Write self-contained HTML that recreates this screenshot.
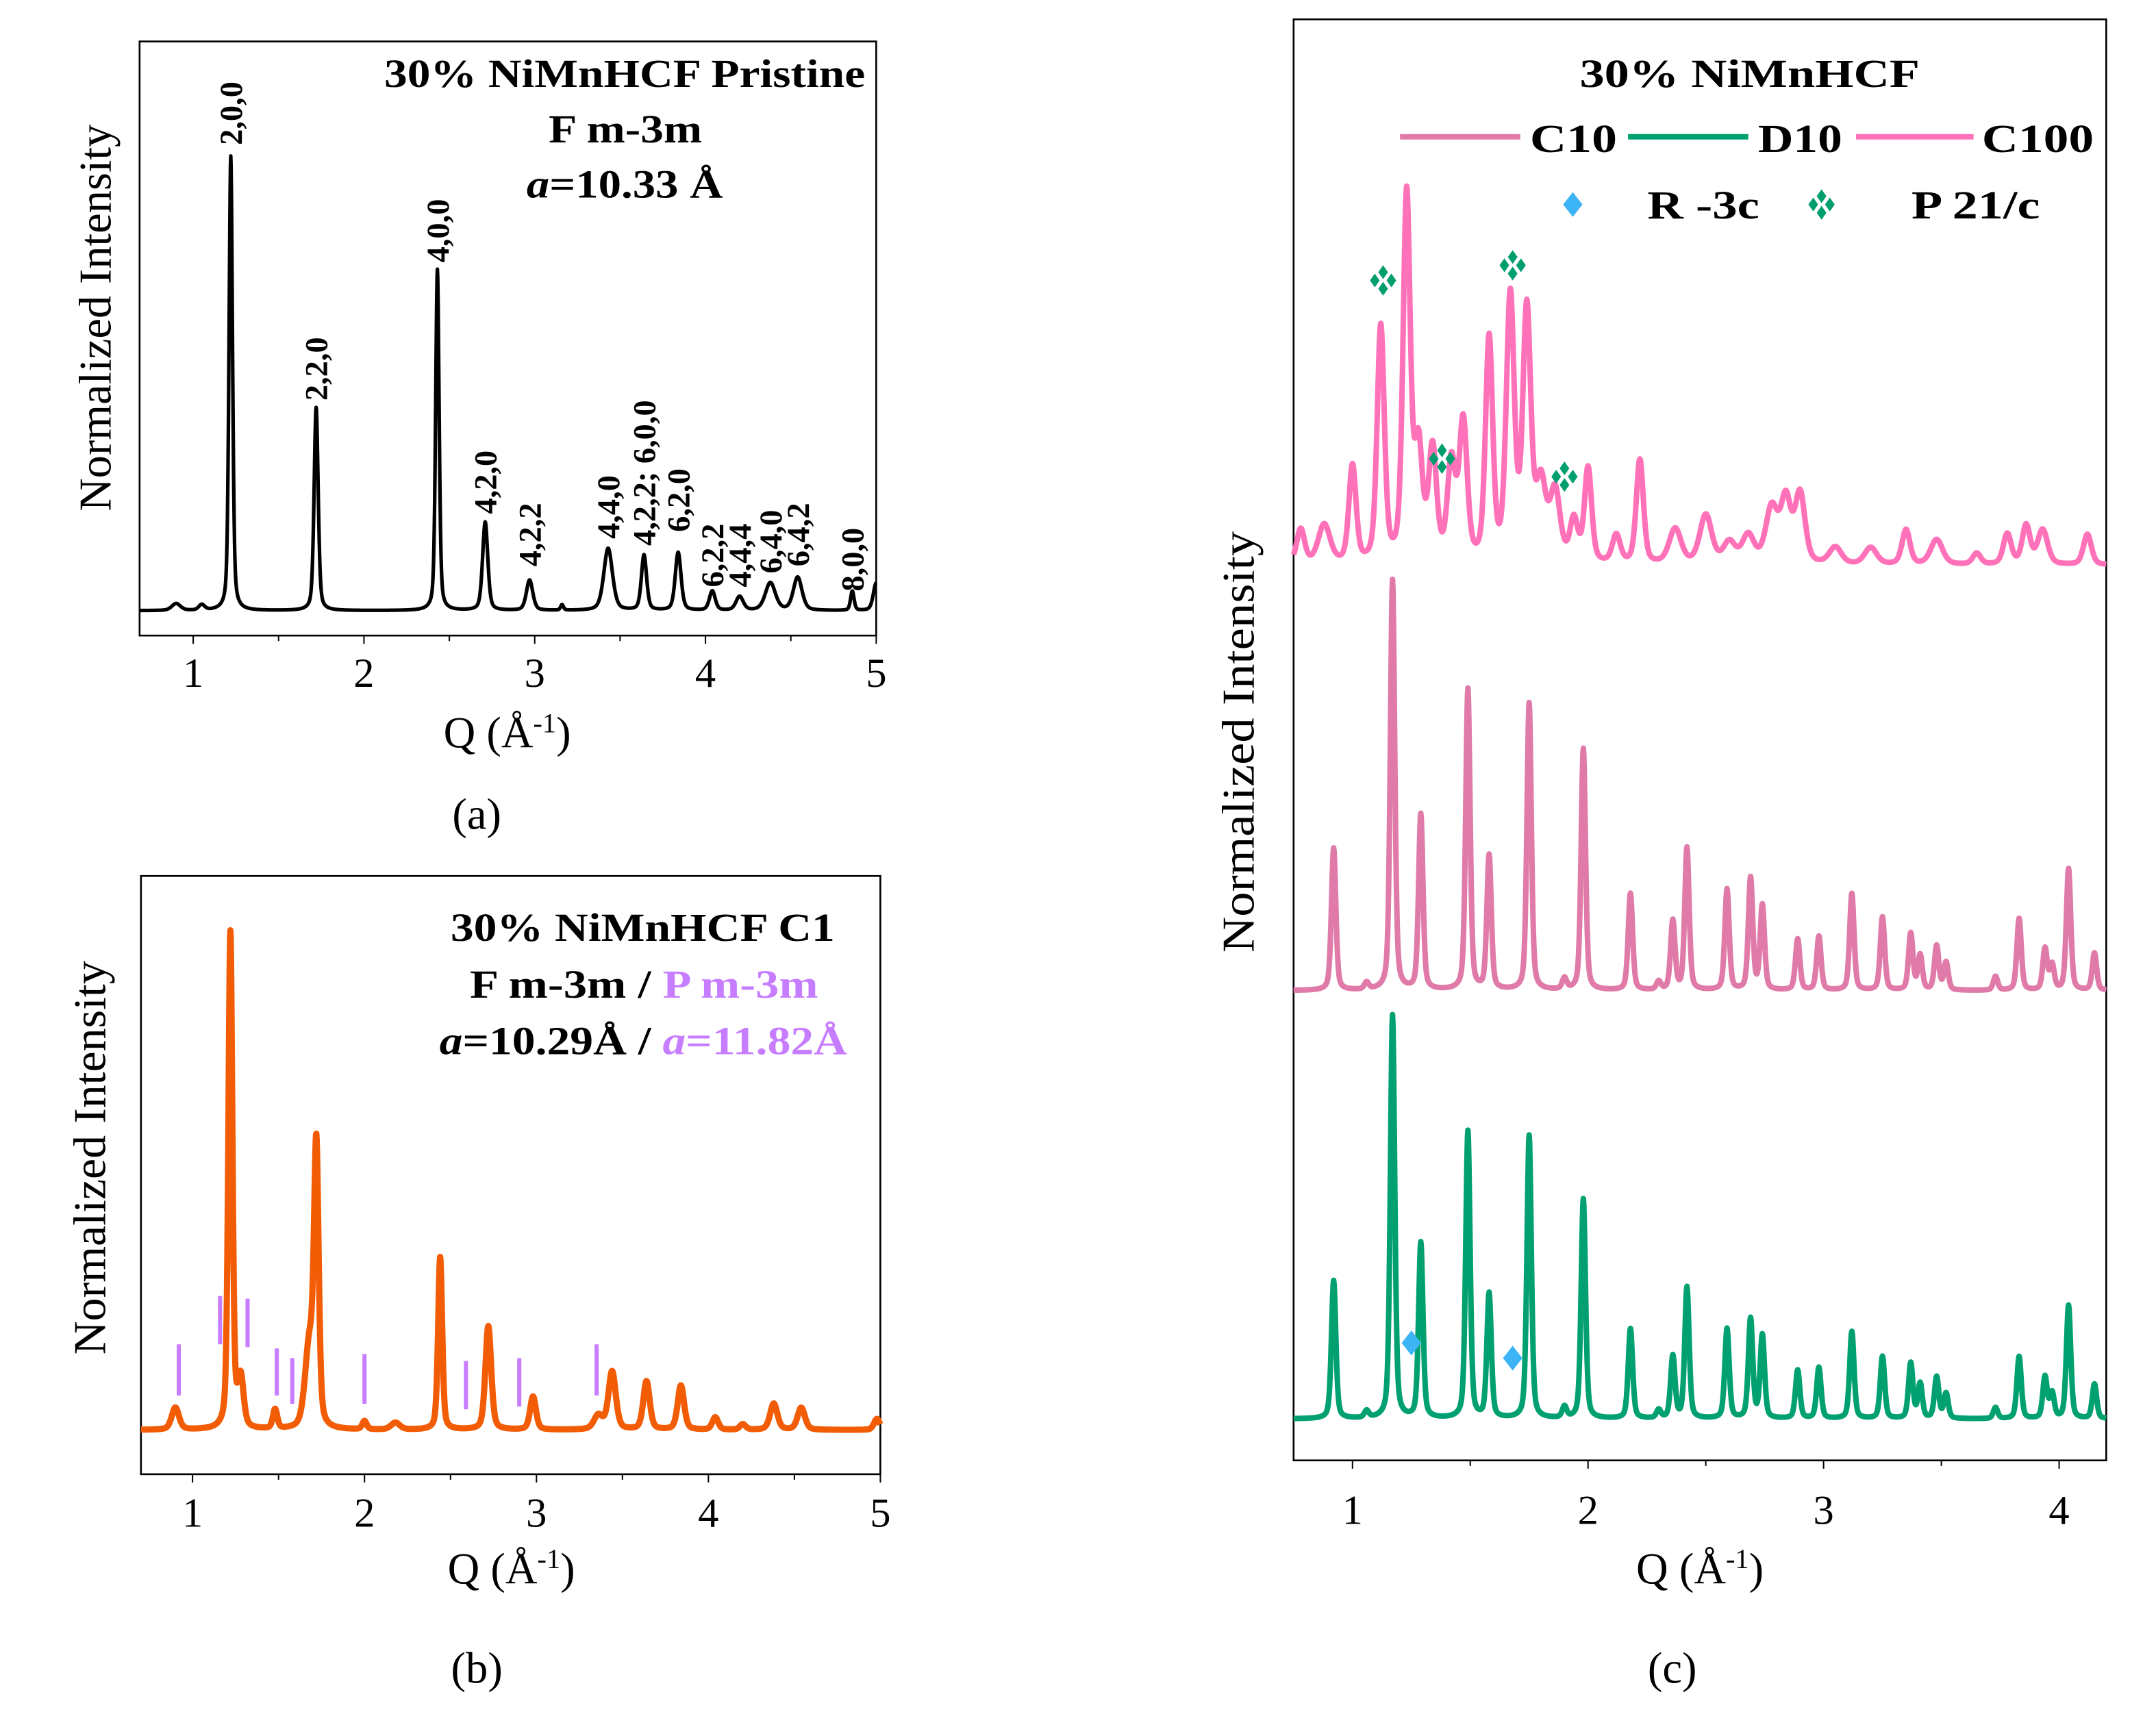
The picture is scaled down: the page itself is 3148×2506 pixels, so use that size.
<!DOCTYPE html>
<html><head><meta charset="utf-8"><style>html,body{margin:0;padding:0;background:#fff}svg{display:block}text{font-family:"Liberation Serif",serif}</style></head>
<body>
<svg id="fig" xmlns="http://www.w3.org/2000/svg" width="3148" height="2506" viewBox="0 0 1560 1242" preserveAspectRatio="none">
<g id="pa"></g>
<g id="pb"></g>
<g id="pc"></g>
</svg>
<script>
// ---- Panel (a) data ----
const aPeakQ = [0.9,1.05,1.22,1.72,2.43,2.71,2.97,3.16,3.43,3.64,3.84,4.04,4.2,4.38,4.54,4.86,5.0];
const aPeakH = [5,4,329,147,247,64,22,4,45,40,42,14,10,20,24,14,20];
const aPeakW = [0.03,0.02,0.012,0.014,0.012,0.018,0.022,0.01,0.03,0.018,0.02,0.02,0.025,0.035,0.03,0.012,0.02];
const aLabels = ["2,0,0","2,2,0","4,0,0","4,2,0","4,2,2","4,4,0","4,2,2;  6,0,0","6,2,0","6,2,2","4,4,4","6,4,0","6,4,2","8,0,0"];
const aLabelQ = [1.22,1.72,2.43,2.71,2.97,3.43,3.64,3.84,4.04,4.2,4.38,4.54,4.86];
const aLabelH = [337,152,252,70,32,52,47,57,17,17,27,32,14];
const aTicks = ["1","2","3","4","5"];
// ---- Panel (b) data ----
const bPeakQ = [0.9,1.22,1.28,1.48,1.68,1.72,2.0,2.18,2.44,2.72,2.98,3.36,3.44,3.64,3.84,4.04,4.2,4.38,4.54,4.98];
const bPeakH = [16,360,35,14,60,195,6,5,125,75,24,10,42,35,32,9,4,19,16,8];
const bPeakW = [0.025,0.014,0.02,0.015,0.03,0.016,0.015,0.03,0.014,0.02,0.02,0.03,0.025,0.022,0.022,0.02,0.02,0.025,0.025,0.02];
const bRefQ = [0.92,1.16,1.32,1.49,1.58,2.0,2.59,2.9,3.35];
const bRefTop = [62,97,95,59,52,55,50,52,62];
const bRefLen = [37,35,35,34,33,36,35,35,37];
// ---- Panel (c) data ----
const sharpQ = [0.92,1.06,1.17,1.29,1.49,1.58,1.75,1.9,1.98,2.18,2.3,2.36,2.42,2.59,2.69,2.74,2.89,2.98,3.12,3.25,3.37,3.41,3.48,3.52,3.73,3.83,3.94,3.97,4.04,4.15];
const d10H = [100,5,292,127,208,90,205,8,159,65,6,45,95,65,72,60,35,37,63,45,40,25,30,18,8,45,30,18,82,25];
const c10H = [103,5,297,127,218,97,208,8,175,70,6,50,103,73,81,61,37,39,70,53,41,25,32,20,10,52,30,18,88,27];
const c100Q = [0.78,0.88,1.0,1.12,1.23,1.28,1.34,1.42,1.47,1.58,1.67,1.74,1.8,1.86,1.94,2.0,2.12,2.22,2.37,2.5,2.6,2.68,2.78,2.84,2.9,3.05,3.2,3.35,3.48,3.65,3.78,3.86,3.93,4.12];
const c100H = [25,28,70,170,265,80,80,70,100,160,190,180,55,50,30,68,20,75,25,35,15,20,40,45,50,12,12,25,18,8,22,28,25,22];
const c100W = [0.02,0.03,0.018,0.018,0.018,0.02,0.02,0.02,0.02,0.018,0.02,0.02,0.025,0.025,0.02,0.018,0.02,0.018,0.03,0.03,0.03,0.03,0.03,0.025,0.025,0.03,0.03,0.02,0.03,0.02,0.02,0.02,0.025,0.02];
const cTicks = ["1","2","3","4"];
const p21Q = [1.13,1.68,1.38,1.9];
const p21Y = [203,192,332,345];
const r3cQ = [1.25,1.68];
const r3cY = [972,983];

const NS = "http://www.w3.org/2000/svg";
function mk(parent, tag, attrs, txt){const e=document.createElementNS(NS,tag);for(const k in attrs)e.setAttribute(k,attrs[k]);if(txt!==undefined)e.textContent=txt;parent.appendChild(e);return e;}
function prof(q,c,w){const d=(q-c)/w;return 0.6*Math.exp(-d*d*0.69)+0.4/(1+d*d);}
function curve(Q,H,W,q){let s=0;for(let i=0;i<Q.length;i++){const w=Array.isArray(W)?W[i]:W;s+=H[i]*prof(q,Q[i],w);}return s;}
function pathFor(xs,ys,Q,H,W,q0,q1){let d="";for(let q=q0;q<=q1+1e-9;q+=0.002){d+=(d?"L":"M")+xs(q).toFixed(2)+","+ys(curve(Q,H,W,q)).toFixed(2);}return d;}
function axesBox(g,x0,y0,x1,y1,xs,qmin,qmax,ticks,minorStep,labY,name){
  const f=mk(g,"rect",{x:x0,y:y0,width:x1-x0,height:y1-y0,fill:"none",stroke:"#000","stroke-width":1.3});
  
  for(let v=Math.ceil(qmin/minorStep)*minorStep;v<=qmax+1e-9;v+=minorStep){
    const major=Math.abs(v-Math.round(v))<1e-6;
    const t=mk(g,"line",{x1:xs(v),x2:xs(v),y1:y1,y2:y1+(major?6:4),stroke:"#000","stroke-width":1});
    
  }
  ticks.forEach(s=>{const v=+s;const t=mk(g,"text",{x:xs(v),y:labY,"text-anchor":"middle","font-size":30},s);
    });
}
function xTitle(g,x,y,name){const t=mk(g,"text",{x:x,y:y,"text-anchor":"middle","font-size":32});
  
  t.appendChild(document.createTextNode("Q (Å"));mk(t,"tspan",{dy:-11,"font-size":20},"-1");mk(t,"tspan",{dy:11},")");}
function yTitle(g,x,y,name,len){const t=mk(g,"text",{x:x,y:y,"text-anchor":"middle","font-size":33,textLength:len,lengthAdjust:"spacingAndGlyphs",transform:`rotate(-90 ${x} ${y})`},"Normalized Intensity");
  }
function bt(g,x,y,len,name,anchor){const t=mk(g,"text",{x:x,y:y,"text-anchor":anchor||"start","font-size":29,"font-weight":"bold",textLength:len,lengthAdjust:"spacingAndGlyphs"});
  return t;}

// ===== Panel a =====
(function(){
const g=document.getElementById("pa");
const qmin=0.686,qmax=5,X0=101,X1=634,Y0=30,Y1=460,base=442;
const xs=q=>X0+(q-qmin)/(qmax-qmin)*(X1-X0);const ys=v=>base-v;
axesBox(g,X0,Y0,X1,Y1,xs,qmin,qmax,aTicks,0.5,497,"panel-a");
const p=mk(g,"path",{d:pathFor(xs,ys,aPeakQ,aPeakH,aPeakW,qmin,qmax),fill:"none",stroke:"#000","stroke-width":2.6,"stroke-linejoin":"round"});

aLabels.forEach((s,i)=>{const x=xs(aLabelQ[i])+8,y=ys(aLabelH[i]);
  const t=mk(g,"text",{x:x,y:y,"font-size":23,"font-weight":"bold",transform:`rotate(-90 ${x} ${y})`},s);
  });
let t=bt(g,278,63,348,"title-a");t.textContent="30% NiMnHCF Pristine";
t=bt(g,397,103,111,"space-group-a");t.textContent="F m-3m";
t=bt(g,381,143,142,"lattice-a");
mk(t,"tspan",{"font-style":"italic"},"a");mk(t,"tspan",{},"=10.33 Å");
xTitle(g,367,541,"x-axis-title-a");yTitle(g,80,230,"y-axis-title-a",280);
t=mk(g,"text",{x:345,y:600,"text-anchor":"middle","font-size":32},"(a)");
})();

// ===== Panel b =====
(function(){
const g=document.getElementById("pb");
const qmin=0.7,qmax=5,X0=102,X1=637,Y0=634,Y1=1067,base=1035;
const xs=q=>X0+(q-qmin)/(qmax-qmin)*(X1-X0);const ys=v=>base-v;
axesBox(g,X0,Y0,X1,Y1,xs,qmin,qmax,aTicks,0.5,1105,"panel-b");
bRefQ.forEach((q,i)=>{const l=mk(g,"line",{x1:xs(q),x2:xs(q),y1:ys(bRefTop[i]),y2:ys(bRefTop[i])+bRefLen[i],stroke:"#c77dff","stroke-width":3});
  });
const p=mk(g,"path",{d:pathFor(xs,ys,bPeakQ,bPeakH,bPeakW,qmin,qmax),fill:"none",stroke:"#f25c05","stroke-width":4.5,"stroke-linejoin":"round"});

let t=bt(g,326,681,278,"title-b");t.textContent="30% NiMnHCF C1";
t=bt(g,340,722,252,"space-group-b");
mk(t,"tspan",{},"F m-3m / ");mk(t,"tspan",{fill:"#c77dff"},"P m-3m");
t=bt(g,318,763,295,"lattice-b");
mk(t,"tspan",{"font-style":"italic"},"a");mk(t,"tspan",{},"=10.29Å / ");mk(t,"tspan",{"font-style":"italic",fill:"#c77dff"},"a");mk(t,"tspan",{fill:"#c77dff"},"=11.82Å");
xTitle(g,370,1146,"x-axis-title-b");yTitle(g,76,838,"y-axis-title-b",285);
t=mk(g,"text",{x:345,y:1218,"text-anchor":"middle","font-size":32},"(b)");
})();

// ===== Panel c =====
(function(){
const g=document.getElementById("pc");
const qmin=0.75,qmax=4.2,X0=936,X1=1524,Y0=14,Y1=1057;
const xs=q=>X0+(q-qmin)/(qmax-qmin)*(X1-X0);
axesBox(g,X0,Y0,X1,Y1,xs,qmin,qmax,cTicks,0.5,1103,"panel-c");
const series=[["d10-pattern",sharpQ,d10H,0.011,1027,"#00a070"],["c10-pattern",sharpQ,c10H,0.011,717,"#e07aa8"],["c100-pattern",c100Q,c100H,c100W,409,"#ff72b9"]];
series.forEach(s=>{const ys=v=>s[4]-v;
  const p=mk(g,"path",{d:pathFor(xs,ys,s[1],s[2],s[3],qmin,qmax),fill:"none",stroke:s[5],"stroke-width":4,"stroke-linejoin":"round"});
  });
function quad(x,y,name){const gg=mk(g,"g",{});
  [[0,-6],[0,6],[-6,0],[6,0]].forEach(o=>mk(gg,"path",{d:`M${x+o[0]},${y+o[1]-5}l3.5,5l-3.5,5l-3.5,-5z`,fill:"#009e6e"}));}
function dia(x,y,name){const e=mk(g,"path",{d:`M${x},${y-9}l7,9l-7,9l-7,-9z`,fill:"#3cb4f5"});}
p21Q.forEach((q,i)=>quad(xs(q),p21Y[i],"p21c-marker"));
r3cQ.forEach((q,i)=>dia(xs(q),r3cY[i],"r3c-marker"));
let t=bt(g,1143,63,246,"title-c");t.textContent="30% NiMnHCF";
const leg=[[1013,1100,"#e07aa8","C10",1107,63],[1178,1265,"#00a070","D10",1272,61],[1343,1428,"#ff72b9","C100",1434,81]];
leg.forEach(L=>{const l=mk(g,"line",{x1:L[0],x2:L[1],y1:99,y2:99,stroke:L[2],"stroke-width":4});
  const tt=bt(g,L[4],110,L[5],'legend-label-'+L[3].toLowerCase());tt.textContent=L[3];});
dia(1138,148,"legend-r3c-marker");
t=bt(g,1192,158,81,"legend-r3c-label");t.textContent="R -3c";
quad(1318,148,"legend-p21c-marker");
t=bt(g,1383,158,93,"legend-p21c-label");t.textContent="P 21/c";
xTitle(g,1230,1146,"x-axis-title-c");yTitle(g,907,537,"y-axis-title-c",305);
t=mk(g,"text",{x:1210,y:1218,"text-anchor":"middle","font-size":32},"(c)");
})();
</script>
</body></html>
